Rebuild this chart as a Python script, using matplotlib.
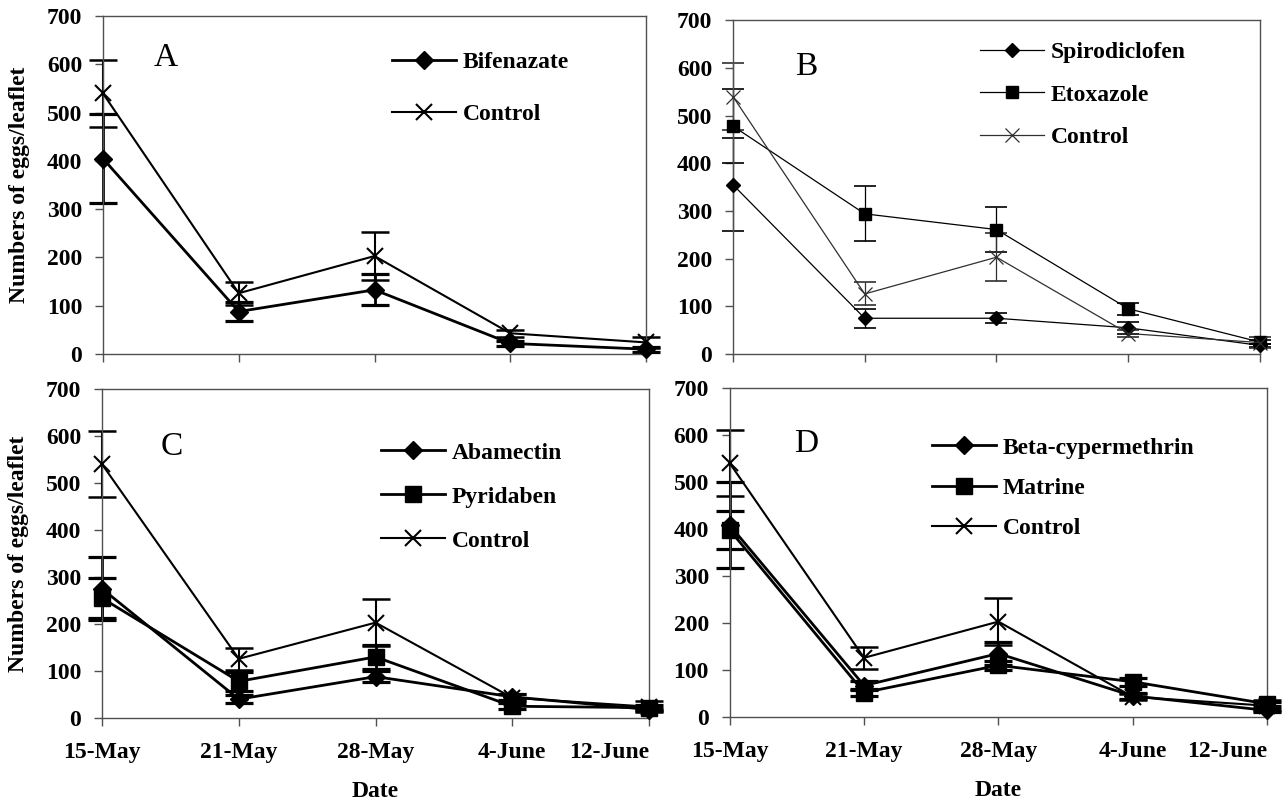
import matplotlib
matplotlib.use('Agg')
import matplotlib.pyplot as plt

plt.rcParams['font.family'] = ['Liberation Serif', 'DejaVu Serif']
plt.rcParams['font.weight'] = 'bold'

dates = ['15-May', '21-May', '28-May', '4-June', '12-June']

control = [540, 126, 203, 43, 24]
control_err = [70, 24, 50, 7, 12]

bifenazate = [405, 88, 133, 22, 10]
bifenazate_err = [92, 20, 32, 6, 5]

spirodiclofen = [355, 75, 75, 55, 18]
spirodiclofen_err = [97, 20, 10, 13, 4]
etoxazole = [478, 294, 261, 95, 25]
etoxazole_err = [78, 58, 48, 13, 5]

abamectin = [275, 40, 88, 45, 18]
abamectin_err = [67, 8, 12, 6, 4]
pyridaben = [255, 78, 130, 25, 22]
pyridaben_err = [42, 20, 25, 6, 5]

beta_cyper = [408, 67, 135, 45, 14]
beta_cyper_err = [92, 10, 25, 6, 4]
matrine = [398, 52, 110, 75, 28]
matrine_err = [40, 8, 10, 8, 5]

SPINE = '#505050'


def draw_panel(ax, series, letter, letter_pos, leg_pos, leg_space, show_x, show_y):
    x = list(range(len(dates)))
    handles = []
    for label, vals, errs, marker, ms, lw, color in series:
        cap = 10 if lw > 1.2 else 8
        ax.errorbar(x, vals, yerr=errs, fmt='none', ecolor=color, elinewidth=lw,
                    capsize=cap, capthick=lw + 0.3, clip_on=False, zorder=2)
        mew = lw if marker == 'x' else 1
        line, = ax.plot(x, vals, marker=marker, ms=ms, mew=mew, lw=lw, color=color,
                        label=label, clip_on=False, zorder=3)
        handles.append(line)

    ax.set_xlim(0, 4)
    ax.set_ylim(0, 700)
    ax.set_yticks(range(0, 701, 100))
    ax.set_xticks(x)
    for s in ax.spines.values():
        s.set_color(SPINE)
        s.set_linewidth(1.0)
    ax.tick_params(axis='y', direction='out', length=6, width=1, color=SPINE,
                   labelsize=17, pad=9)
    ax.tick_params(axis='x', direction='out', length=6, width=1, color=SPINE,
                   labelsize=17, pad=11)
    if show_x:
        ax.set_xticklabels(dates)
        ax.get_xticklabels()[-1].set_horizontalalignment('right')
        ax.set_xlabel('Date', fontsize=17, fontweight='bold', labelpad=13)
    else:
        ax.set_xticklabels([])
    if show_y:
        ax.set_ylabel('Numbers of eggs/leaflet', fontsize=17, fontweight='bold', labelpad=12)

    ax.text(letter_pos[0], letter_pos[1], letter, transform=ax.transAxes,
            fontsize=24, fontweight='normal', ha='center', va='center')
    ax.legend(handles=handles, loc='upper left', bbox_to_anchor=leg_pos, frameon=False,
              borderpad=0, borderaxespad=0, handlelength=2.7, handletextpad=0.3,
              labelspacing=leg_space, prop={'size': 17, 'weight': 'bold'})


fig = plt.figure(figsize=(12.87, 8.09), dpi=100)

ax_a = fig.add_axes([0.080, 0.5624, 0.422, 0.4176])
draw_panel(ax_a, [
    ('Bifenazate', bifenazate, bifenazate_err, 'D', 9, 2.0, 'black'),
    ('Control', control, control_err, 'x', 12, 1.5, 'black'),
], 'A', (0.116, 0.876), (0.532, 0.896), 1.3, False, True)

ax_b = fig.add_axes([0.5695, 0.5624, 0.4095, 0.4126])
draw_panel(ax_b, [
    ('Spirodiclofen', spirodiclofen, spirodiclofen_err, 'D', 7, 0.9, 'black'),
    ('Etoxazole', etoxazole, etoxazole_err, 's', 8, 0.9, 'black'),
    ('Control', control, control_err, 'x', 10, 0.9, '#303030'),
], 'B', (0.139, 0.862), (0.469, 0.937), 0.9, False, False)

ax_c = fig.add_axes([0.0793, 0.1125, 0.4250, 0.4065])
draw_panel(ax_c, [
    ('Abamectin', abamectin, abamectin_err, 'D', 9, 2.0, 'black'),
    ('Pyridaben', pyridaben, pyridaben_err, 's', 12, 2.0, 'black'),
    ('Control', control, control_err, 'x', 12, 1.5, 'black'),
], 'C', (0.128, 0.824), (0.51, 0.839), 0.95, True, True)

ax_d = fig.add_axes([0.567, 0.1137, 0.4175, 0.4067])
draw_panel(ax_d, [
    ('Beta-cypermethrin', beta_cyper, beta_cyper_err, 'D', 9, 2.0, 'black'),
    ('Matrine', matrine, matrine_err, 's', 12, 2.0, 'black'),
    ('Control', control, control_err, 'x', 12, 1.5, 'black'),
], 'D', (0.143, 0.83), (0.376, 0.851), 0.8, True, False)

fig.savefig('out.png', dpi=100)
